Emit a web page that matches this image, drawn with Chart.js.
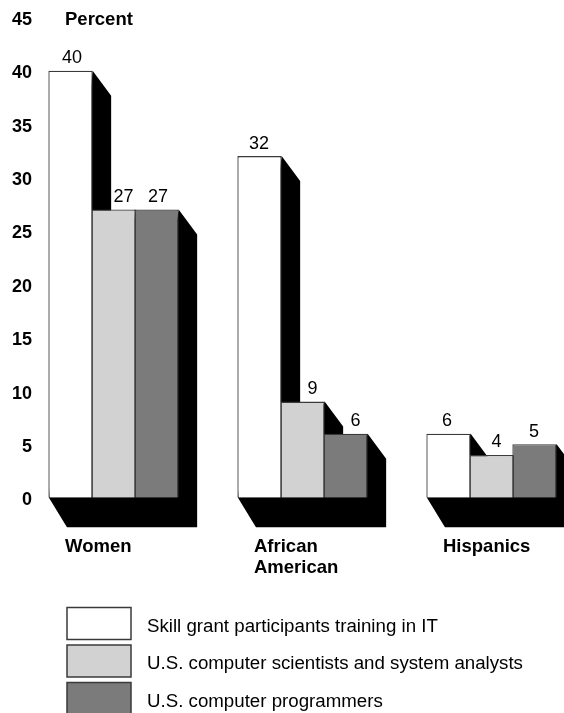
<!DOCTYPE html>
<html><head><meta charset="utf-8">
<style>html,body{margin:0;padding:0;background:#fff;overflow:hidden;width:564px;height:713px}
#w{position:relative;width:564px;height:713px;overflow:hidden}canvas{position:absolute;left:0;top:0}</style>
<script src="https://cdn.jsdelivr.net/npm/chart.js@4/dist/chart.umd.min.js"></script>
</head><body><div id="w"><canvas id="c" width="586" height="713"></canvas></div>
<script>
const categories = ['Women', ['African', 'American'], 'Hispanics'];
const skillGrant = [40, 32, 6];
const scientists = [27, 9, 4];
const programmers = [27, 6, 5];
const seriesNames = ['Skill grant participants training in IT', 'U.S. computer scientists and system analysts', 'U.S. computer programmers'];
const seriesColors = ['#ffffff', '#d2d2d2', '#7b7b7b'];
const axisTitle = 'Percent';
const labelNudges = [[1.5, -0.5, -1.5], [10, 10, 5], [1.5, 10, -0.5]];
const edge = '#3a3a3a';
const FONT = '"Liberation Sans", Arial, sans-serif';

const extras = {
  id: 'extras',
  beforeDatasetsDraw(chart) {
    const ctx = chart.ctx;
    ctx.save();
    ctx.fillStyle = '#000';
    ctx.beginPath();
    chart.data.datasets.forEach((d, i) => {
      chart.getDatasetMeta(i).data.forEach(bar => {
        const l = bar.x - bar.width / 2 + 0.6, r = bar.x + bar.width / 2, t = bar.y, b = bar.base;
        ctx.moveTo(r, t);
        ctx.lineTo(r + 18.5, t + 25);
        ctx.lineTo(r + 18.5, b + 29.5);
        ctx.lineTo(l + 18, b + 29.5);
        ctx.lineTo(l, b);
        ctx.closePath();
      });
    });
    ctx.fill();
    ctx.restore();
  },
  afterDatasetsDraw(chart) {
    const ctx = chart.ctx;
    ctx.save();
    ctx.fillStyle = '#000';
    ctx.textAlign = 'center';
    ctx.textBaseline = 'alphabetic';
    ctx.font = '18px ' + FONT;
    chart.data.datasets.forEach((d, i) => {
      chart.getDatasetMeta(i).data.forEach((bar, j) => {
        ctx.fillText(String(d.data[j]), bar.x + labelNudges[i][j], bar.y - 7.5);
      });
    });
    ctx.textAlign = 'left';
    ctx.font = 'bold 18.5px ' + FONT;
    ctx.fillText(axisTitle, 65, 25);
    ctx.font = '18.7px ' + FONT;
    const tops = [607.5, 645, 682.5];
    chart.data.datasets.forEach((d, i) => {
      ctx.fillStyle = d.backgroundColor;
      ctx.strokeStyle = edge;
      ctx.lineWidth = 1.5;
      ctx.fillRect(67, tops[i], 64, 32);
      ctx.strokeRect(67, tops[i], 64, 32);
      ctx.fillStyle = '#000';
      ctx.fillText(d.label, 147, tops[i] + 24);
    });
    ctx.restore();
  }
};

const mk = (i, data) => ({
  label: seriesNames[i], data, backgroundColor: seriesColors[i],
  borderColor: edge, borderWidth: 1.3,
  barPercentage: 1.03, categoryPercentage: 129 / 189
});

new Chart(document.getElementById('c'), {
  type: 'bar',
  data: { labels: categories, datasets: [mk(0, skillGrant), mk(1, scientists), mk(2, programmers)] },
  options: {
    responsive: false, animation: false, devicePixelRatio: 1,
    layout: { padding: { top: 17.3, left: 0, right: 0, bottom: 0 } },
    plugins: { legend: { display: false }, tooltip: { enabled: false }, title: { display: false } },
    scales: {
      x: {
        grid: { display: false, drawTicks: false }, border: { display: false },
        afterFit: s => { s.height = 713 - 497.7; s.paddingLeft = 0; s.paddingRight = 0; },
        ticks: { align: 'start', labelOffset: -48.5, padding: 38.3, maxRotation: 0, autoSkip: false,
          color: '#000', font: { family: FONT, size: 18.5, weight: 'bold', lineHeight: 1.14 } }
      },
      y: {
        min: 0, max: 45, grid: { display: false, drawTicks: false }, border: { display: false },
        afterFit: s => { s.width = 19; },
        ticks: { stepSize: 5, mirror: true, crossAlign: 'far', padding: -7, labelOffset: 2.7, color: '#000', font: { family: FONT, size: 18, weight: 'bold' } }
      }
    }
  },
  plugins: [extras]
});
</script></body></html>
